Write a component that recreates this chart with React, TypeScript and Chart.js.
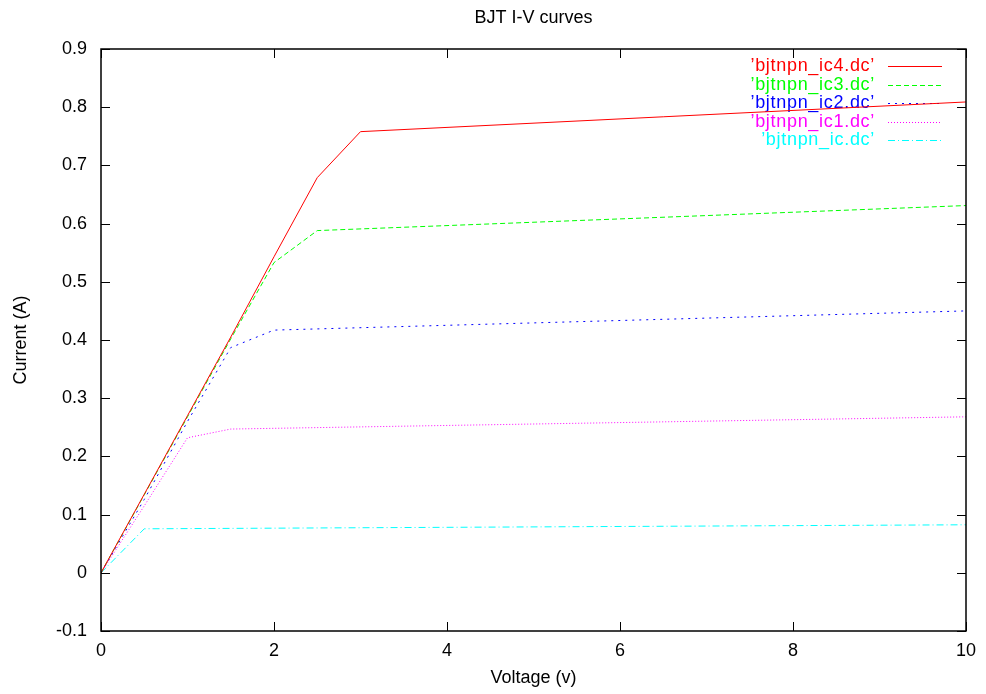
import React, { useEffect, useRef } from "react";
import { Chart, registerables } from "chart.js";

Chart.register(...registerables);

const titleText = "BJT I-V curves";
const xTitle = "Voltage (v)";
const yTitle = "Current (A)";

const seriesNames = ["’bjtnpn_ic4.dc’", "’bjtnpn_ic3.dc’", "’bjtnpn_ic2.dc’", "’bjtnpn_ic1.dc’", "’bjtnpn_ic.dc’"];
const seriesColors = ["#ff0000", "#00ff00", "#0000ff", "#ff00ff", "#00ffff"];
const seriesDashes: number[][] = [[], [5, 3], [2, 5], [1, 2], [7, 3, 1, 3]];

const vIc4 = [0, 0.5, 1, 1.5, 2, 2.5, 3, 10];
const iIc4 = [0, 0.135, 0.27, 0.405, 0.543, 0.679, 0.758, 0.809];
const vIc3 = [0, 0.5, 1, 1.5, 2, 2.5, 10];
const iIc3 = [0, 0.134, 0.268, 0.402, 0.533, 0.588, 0.631];
const vIc2 = [0, 0.5, 1, 1.5, 2, 10];
const iIc2 = [0, 0.126, 0.26, 0.387, 0.417, 0.45];
const vIc1 = [0, 0.5, 1, 1.5, 10];
const iIc1 = [0, 0.115, 0.232, 0.247, 0.268];
const vIc = [0, 0.5, 10];
const iIc = [0, 0.0756, 0.0825];

const xTicks = [0, 2, 4, 6, 8, 10];
const yTicks = [-0.1, 0, 0.1, 0.2, 0.3, 0.4, 0.5, 0.6, 0.7, 0.8, 0.9];

const FONT = "Liberation Sans, Arial, Helvetica, sans-serif";

const pairs = (xs: number[], ys: number[]) => xs.map((x, i) => ({ x, y: ys[i] }));

export default function App() {
  const ref = useRef<HTMLCanvasElement | null>(null);
  useEffect(() => {
    document.body.style.margin = "0";
    const canvas = ref.current!;
    const allV = [vIc4, vIc3, vIc2, vIc1, vIc];
    const allI = [iIc4, iIc3, iIc2, iIc1, iIc];

    const decor = {
      id: "decor",
      beforeDatasetsDraw(chart: any) {
        const ctx = chart.ctx;
        const a = chart.chartArea;
        ctx.save();
        // legend
        ctx.font = `18px ${FONT}`;
        (ctx as any).letterSpacing = "0.7px";
        ctx.textAlign = "right";
        ctx.textBaseline = "middle";
        const textRight = a.right - 91;
        const lineL = a.right - 78;
        const lineR = a.right - 24;
        seriesNames.forEach((name, i) => {
          const y = a.top + 17 + i * 18.6;
          ctx.fillStyle = seriesColors[i];
          ctx.fillText(name, textRight, y);
          ctx.strokeStyle = seriesColors[i];
          ctx.lineWidth = 1;
          ctx.setLineDash(seriesDashes[i]);
          ctx.beginPath();
          ctx.moveTo(lineL, Math.round(y) + 0.5);
          ctx.lineTo(lineR, Math.round(y) + 0.5);
          ctx.stroke();
        });
        ctx.setLineDash([]);
        (ctx as any).letterSpacing = "0px";
        ctx.restore();
      },
      afterDraw(chart: any) {
        const ctx = chart.ctx;
        const a = chart.chartArea;
        const xs = chart.scales.x;
        const ys = chart.scales.y;
        ctx.save();
        ctx.strokeStyle = "#000";
        ctx.lineWidth = 1.5;
        ctx.strokeRect(a.left, a.top, a.right - a.left, a.bottom - a.top);
        ctx.lineWidth = 1;
        const tl = 9;
        ctx.beginPath();
        xTicks.forEach((v) => {
          const px = Math.round(xs.getPixelForValue(v)) + 0.5;
          ctx.moveTo(px, a.bottom);
          ctx.lineTo(px, a.bottom - tl);
          ctx.moveTo(px, a.top);
          ctx.lineTo(px, a.top + tl);
        });
        yTicks.forEach((v) => {
          const py = Math.round(ys.getPixelForValue(v)) + 0.5;
          ctx.moveTo(a.left, py);
          ctx.lineTo(a.left + tl, py);
          ctx.moveTo(a.right, py);
          ctx.lineTo(a.right - tl, py);
        });
        ctx.stroke();
        // titles
        ctx.fillStyle = "#000";
        ctx.font = `18px ${FONT}`;
        ctx.textAlign = "center";
        ctx.textBaseline = "middle";
        const cx = (a.left + a.right) / 2;
        ctx.fillText(titleText, cx, 18.5);
        ctx.fillText(xTitle, cx, 678);
        ctx.translate(21, (a.top + a.bottom) / 2);
        ctx.rotate(-Math.PI / 2);
        ctx.fillText(yTitle, 0, 0);
        ctx.restore();
      },
    };

    const chart = new Chart(canvas, {
      type: "line",
      data: {
        datasets: seriesNames.map((name, i) => ({
          label: name,
          data: pairs(allV[i], allI[i]),
          borderColor: seriesColors[i],
          backgroundColor: seriesColors[i],
          borderWidth: 1,
          borderDash: seriesDashes[i],
          pointRadius: 0,
          fill: false,
          tension: 0,
        })),
      },
      options: {
        responsive: false,
        animation: false,
        layout: { padding: { top: 49, right: 20, left: 0, bottom: 0 } },
        plugins: {
          legend: { display: false },
          title: { display: false },
          tooltip: { enabled: false },
        },
        scales: {
          x: {
            type: "linear",
            min: 0,
            max: 10,
            afterFit: (s: any) => {
              s.height = 63;
            },
            afterBuildTicks: (s: any) => {
              s.ticks = xTicks.map((v) => ({ value: v }));
            },
            grid: { display: false, drawTicks: false },
            border: { display: false },
            ticks: {
              padding: 9,
              color: "#000",
              font: { family: FONT, size: 18 },
              maxRotation: 0,
              autoSkip: false,
              callback: (v: any) => String(v),
            },
          },
          y: {
            type: "linear",
            min: -0.1,
            max: 0.9,
            afterFit: (s: any) => {
              s.width = 101;
            },
            afterBuildTicks: (s: any) => {
              s.ticks = yTicks.map((v) => ({ value: v }));
            },
            grid: { display: false, drawTicks: false },
            border: { display: false },
            ticks: {
              padding: 14,
              color: "#000",
              font: { family: FONT, size: 18 },
              autoSkip: false,
              callback: (v: any) => String(Number(Number(v).toFixed(1))),
            },
          },
        },
      },
      plugins: [decor],
    } as any);
    return () => chart.destroy();
  }, []);
  return <canvas ref={ref} width={986} height={694} style={{ display: "block", width: 986, height: 694 }} />;
}
